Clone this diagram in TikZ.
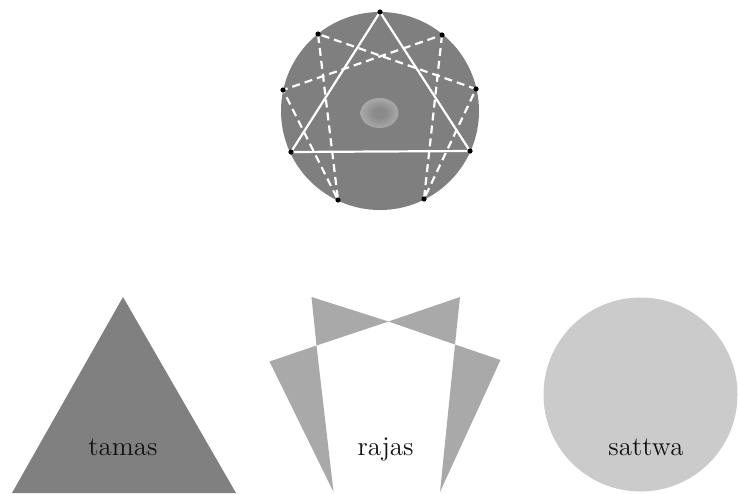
\documentclass[tikz,border=0pt]{standalone}
\usepackage{tikz}
\usetikzlibrary{calc}
\definecolor{fondo}{HTML}{7F7F7F}
\definecolor{tamasgris}{HTML}{808080}
\definecolor{rajasgris}{HTML}{A9A9A9}
\definecolor{sattwagris}{HTML}{CBCBCB}
\definecolor{nucleoc}{HTML}{8A8A8A}
\definecolor{nucleob}{HTML}{CCCCCC}
\definecolor{texto}{HTML}{111111}
\pgfdeclareradialshading{nucleo}{\pgfpointorigin}{%
  color(0bp)=(nucleoc); color(8bp)=(nucleoc); color(44bp)=(nucleob); color(50bp)=(nucleob)}
\tikzset{
  linea/.style={white,line width=1.1pt},
  trazos/.style={white,line width=1.1pt,dash pattern=on 4pt off 2.5pt},
  punto/.style={fill=black},
  guna/.style={texto,anchor=base,font=\fontsize{13.5}{15}\selectfont}
}

\begin{document}
\begin{tikzpicture}[x=0.5pt,y=-0.5pt,line cap=butt]
    \useasboundingbox (0,0) rectangle (738,493);
    % --- eneagrama ---
    \coordinate (C) at (380,111);
    \coordinate (p9) at (380,12);  \coordinate (p1) at (442,35);
    \coordinate (p2) at (476,89);  \coordinate (p3) at (470,151);
    \coordinate (p4) at (424,199); \coordinate (p5) at (338,200);
    \coordinate (p6) at (291,152); \coordinate (p7) at (283,90);
    \coordinate (p8) at (318,34);
    \fill[fondo] (C) circle (49.5pt);
    \shade[shading=nucleo] (379.5,113) ellipse [x radius=9.5pt,y radius=7.5pt];
    % --- triangulo 9-3-6 ---
    \draw[linea] (p9) -- (p3) -- (p6) -- cycle;
    % --- hexada 1-4-2-8-5-7 ---
    \draw[trazos] (p1) -- (p4) -- (p2) -- (p8) -- (p5) -- (p7) -- cycle;
    \foreach \p in {p1,p2,p3,p4,p5,p6,p7,p8,p9}{
      \fill[punto] (\p) circle (1.3pt);
    }
    % --- tamas ---
    \coordinate (T1) at (123,297); \coordinate (T2) at (236,493);
    \coordinate (T3) at (12,493);
    \fill[tamasgris] (T1) -- (T2) -- (T3) -- cycle;
    \node[guna] (tamas) at (123,455) {tamas};
    % --- rajas ---
    \coordinate (X) at (388.5,321.5);
    \coordinate (R1) at (311.5,297); \coordinate (R2) at (316.5,345.5);
    \coordinate (R3) at (460,297);   \coordinate (R4) at (455,344.5);
    \coordinate (R5) at (269.5,361.5); \coordinate (R6) at (333.5,492);
    \coordinate (R7) at (500.5,360);   \coordinate (R8) at (440,492);
    \fill[rajasgris] (R1) -- (X) -- (R2) -- cycle;
    \fill[rajasgris] (R3) -- (X) -- (R4) -- cycle;
    \fill[rajasgris] (R5) -- (R2) -- (R6) -- cycle;
    \fill[rajasgris] (R7) -- (R4) -- (R8) -- cycle;
    \node[guna] (rajas) at (385.5,455) {rajas};
    % --- sattwa ---
    \fill[sattwagris] (640.5,394.5) circle (48.5pt);
    \node[guna] (sattwa) at (646,455) {sattwa};
\end{tikzpicture}
\end{document}
